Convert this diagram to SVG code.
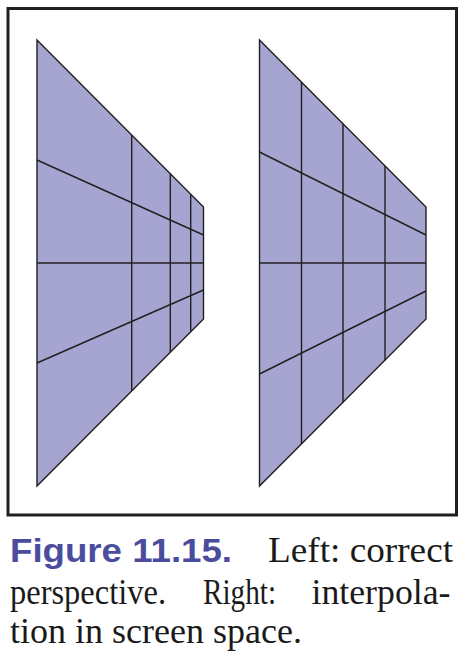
<svg xmlns="http://www.w3.org/2000/svg" width="467" height="663" viewBox="0 0 467 663">
<style>
.frame{fill:#fff;stroke:#231f20;stroke-width:3}
.quad{fill:#a6a4d1;stroke:#231f20;stroke-width:1.4;stroke-linejoin:miter}
.grid{fill:none;stroke:#231f20;stroke-width:1.4}
.fig{font-family:"Liberation Sans",Arial,sans-serif;font-weight:bold;font-size:33.5px;fill:#4b4c9e}
.cap{font-family:"Liberation Serif","Times New Roman",serif;font-size:36px;fill:#1a1a1a}
</style>
<rect class="frame" x="8" y="8.5" width="448.5" height="506.5"/>
<g id="left">
<polygon class="quad" points="37,40 203.5,207 203.5,319 37,486"/>
<g class="grid">
<line x1="131.7" y1="135" x2="131.7" y2="391"/>
<line x1="170.3" y1="173.8" x2="170.3" y2="352"/>
<line x1="190.7" y1="194.3" x2="190.7" y2="331.5"/>
<line x1="37" y1="160" x2="203.5" y2="235"/>
<line x1="37" y1="263" x2="203.5" y2="263"/>
<line x1="37" y1="363" x2="203.5" y2="290"/>
</g>
</g>
<g id="right">
<polygon class="quad" points="259.5,40 426,207 426,319 259.5,486"/>
<g class="grid">
<line x1="301.5" y1="82" x2="301.5" y2="444"/>
<line x1="343" y1="123.6" x2="343" y2="402.4"/>
<line x1="385" y1="165.7" x2="385" y2="360.3"/>
<line x1="259.5" y1="152" x2="426" y2="235"/>
<line x1="259.5" y1="263" x2="426" y2="263"/>
<line x1="259.5" y1="374" x2="426" y2="291"/>
</g>
</g>
<g id="caption">
<text class="fig" x="10" y="561.5" textLength="222" lengthAdjust="spacingAndGlyphs">Figure 11.15.</text>
<text class="cap" x="268" y="562" textLength="185" lengthAdjust="spacingAndGlyphs">Left: correct</text>
<text class="cap" x="10" y="604" textLength="156" lengthAdjust="spacingAndGlyphs">perspective.</text>
<text class="cap" x="203" y="604" textLength="73" lengthAdjust="spacingAndGlyphs">Right:</text>
<text class="cap" x="311.5" y="604" textLength="139" lengthAdjust="spacingAndGlyphs">interpola-</text>
<text class="cap" x="10" y="643" textLength="292" lengthAdjust="spacingAndGlyphs">tion in screen space.</text>
</g>
</svg>
